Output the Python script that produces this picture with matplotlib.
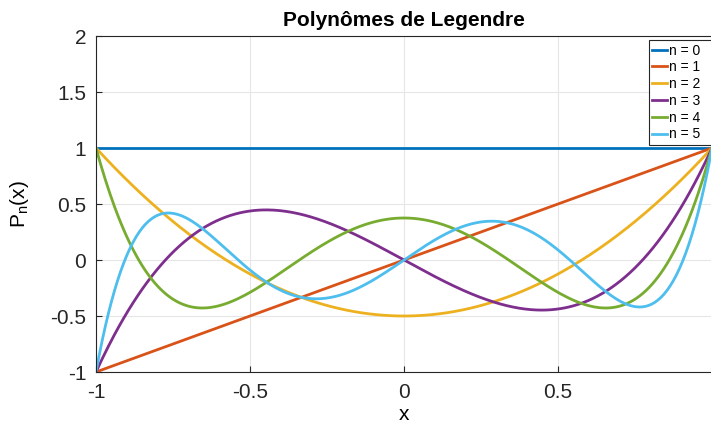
import numpy as np
import matplotlib.pyplot as plt

# Legendre polynomial coefficients (highest power first)
P0 = [1]
P1 = [1, 0]
P2 = [1.5, 0, -0.5]
P3 = [2.5, 0, -1.5, 0]
P4 = [4.375, 0, -3.75, 0, 0.375]
P5 = [7.875, 0, -8.75, 0, 1.875, 0]
polys = [P0, P1, P2, P3, P4, P5]
labels = ['n = 0', 'n = 1', 'n = 2', 'n = 3', 'n = 4', 'n = 5']
colors = ['#0072BD', '#D95319', '#EDB120', '#7E2F8E', '#77AC30', '#4DBEEE']

x = np.linspace(-1, 1, 400)

plt.rcParams['font.family'] = ['Liberation Sans', 'DejaVu Sans']
plt.rcParams['mathtext.fontset'] = 'custom'
plt.rcParams['mathtext.rm'] = 'Liberation Sans'

fig = plt.figure(figsize=(7.11, 4.29), dpi=100)
ax = fig.add_axes([96 / 711, 57 / 429, 616 / 711, 336 / 429])

lines = []
for c, col in zip(polys, colors):
    ln, = ax.plot(x, np.polyval(c, x), color=col, lw=2)
    lines.append(ln)

ax.set_xlim(-1, 1)
ax.set_ylim(-1, 2)
ax.set_xticks([-1, -0.5, 0, 0.5, 1])
ax.set_xticklabels(['-1', '-0.5', '0', '0.5', ''])  # "1" falls outside the figure
ax.set_yticks([-1, -0.5, 0, 0.5, 1, 1.5, 2])
ax.set_yticklabels(['-1', '-0.5', '0', '0.5', '1', '1.5', '2'])
ax.tick_params(direction='in', labelsize=15, colors='#262626', length=4)
ax.tick_params(axis='x', pad=8)
ax.tick_params(axis='y', pad=7)
ax.grid(True, color='#e6e6e6', lw=0.8)
ax.set_axisbelow(True)
for s in ax.spines.values():
    s.set_color('#262626')
    s.set_linewidth(0.8)

ax.set_title('Polynômes de Legendre', fontsize=15, fontweight='bold', pad=7)
ax.set_xlabel('x', fontsize=15, labelpad=2)
ax.set_ylabel('$\\mathrm{P_n(x)}$', fontsize=15)
ax.yaxis.set_label_coords(-0.105, 0.5)

# trailing spaces give the wider box of the original legend
leg = ax.legend(lines, [l + '  ' for l in labels], loc='upper right',
                bbox_to_anchor=(1.0, 0.988), borderaxespad=0,
                fontsize=10, fancybox=False, framealpha=1, edgecolor='#262626',
                handlelength=1.1, handletextpad=0.15, labelspacing=0.2,
                borderpad=0.25)
leg.get_frame().set_linewidth(0.8)

fig.savefig('out.png', dpi=100)
